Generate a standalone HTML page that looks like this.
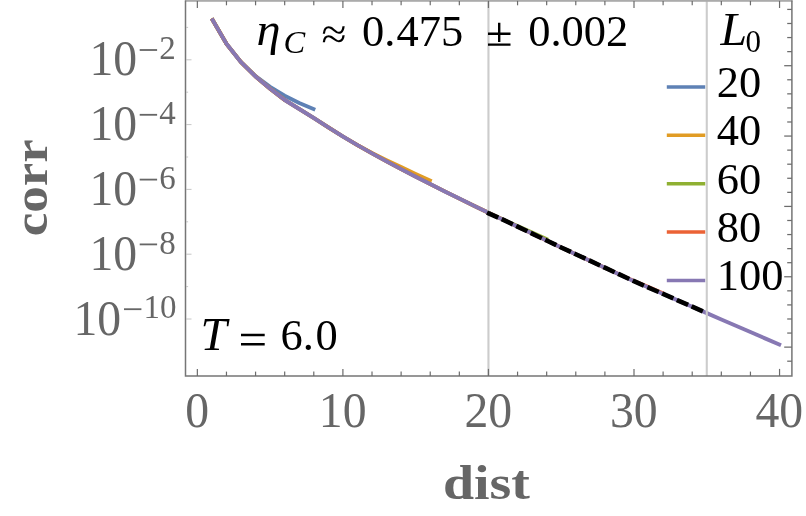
<!DOCTYPE html>
<html><head><meta charset="utf-8"><title>corr vs dist</title>
<style>
html,body{margin:0;padding:0;background:#fff;}
body{width:806px;height:516px;overflow:hidden;}
svg{display:block;}
text{font-family:"Liberation Serif",serif;}
.g{fill:#666666;}
.k{fill:#000;}
</style></head><body>
<svg width="806" height="516" viewBox="0 0 806 516" style="will-change:transform">
<rect width="806" height="516" fill="#fff"/>

<path d="M211.76,18.50 L226.46,43.80 L241.01,62.20 L255.57,76.00 L270.12,86.80 L284.68,95.70 L299.24,103.00 L315.25,109.82" fill="none" stroke="#5E81B5" stroke-width="3.75" stroke-linejoin="round" stroke-linecap="butt"/>
<path d="M211.76,18.50 L226.46,43.80 L241.01,62.20 L255.57,76.50 L270.12,88.70 L284.68,100.00 L299.24,109.00 L313.79,118.00 L328.35,127.40 L342.90,136.50 L357.45,145.10 L372.01,152.90 L386.56,160.10 L401.12,167.00 L415.67,173.90 L431.69,181.27" fill="none" stroke="#E19C24" stroke-width="3.75" stroke-linejoin="round" stroke-linecap="butt"/>
<path d="M211.76,18.50 L226.46,43.80 L241.01,62.20 L255.57,76.50 L270.12,88.70 L284.68,100.00 L299.24,109.00 L313.79,118.00 L328.35,127.40 L342.90,136.50 L357.45,145.10 L372.01,153.40 L386.56,161.40 L401.12,169.10 L415.67,176.70 L430.23,184.10 L444.78,191.40 L459.34,198.60 L473.89,205.70 L488.45,212.70 L503.00,219.46 L517.56,226.07 L532.12,232.58 L548.13,239.63" fill="none" stroke="#8FB032" stroke-width="3.75" stroke-linejoin="round" stroke-linecap="butt"/>
<path d="M211.76,18.50 L226.46,43.80 L241.01,62.20 L255.57,76.50 L270.12,88.70 L284.68,100.00 L299.24,109.00 L313.79,118.00 L328.35,127.40 L342.90,136.50 L357.45,145.10 L372.01,153.40 L386.56,161.40 L401.12,169.10 L415.67,176.70 L430.23,184.10 L444.78,191.40 L459.34,198.60 L473.89,205.70 L488.45,212.70 L503.00,219.66 L517.56,226.62 L532.12,233.58 L546.67,240.54 L561.23,247.47 L575.78,254.22 L590.34,260.96 L604.89,267.71 L619.44,274.35 L634.00,280.90 L648.55,287.08 L664.57,293.88" fill="none" stroke="#EB6235" stroke-width="3.75" stroke-linejoin="round" stroke-linecap="butt"/>
<path d="M211.76,18.50 L226.46,43.80 L241.01,62.20 L255.57,76.50 L270.12,88.70 L284.68,100.00 L299.24,109.00 L313.79,118.00 L328.35,127.40 L342.90,136.50 L357.45,145.10 L372.01,153.40 L386.56,161.40 L401.12,169.10 L415.67,176.70 L430.23,184.10 L444.78,191.40 L459.34,198.60 L473.89,205.70 L488.45,212.70 L503.00,219.66 L517.56,226.62 L532.12,233.58 L546.67,240.54 L561.23,247.47 L575.78,254.22 L590.34,260.96 L604.89,267.71 L619.44,274.45 L634.00,281.20 L648.55,287.58 L663.11,293.96 L677.66,300.34 L692.22,306.72 L706.77,313.10 L721.33,319.42 L735.88,325.74 L750.44,332.06 L765.00,338.38 L781.01,345.33" fill="none" stroke="#8778B3" stroke-width="3.9" stroke-linejoin="round" stroke-linecap="butt"/>
<line x1="488.45" y1="0.9" x2="488.45" y2="376.0" stroke="#cccccc" stroke-width="2.1"/>
<line x1="706.77" y1="0.9" x2="706.77" y2="376.0" stroke="#cccccc" stroke-width="2.1"/>
<path d="M486.99,212.55 L503.00,219.66 L517.56,226.62 L532.12,233.58 L546.67,240.54 L561.23,247.47 L575.78,254.22 L590.34,260.96 L604.89,267.71 L619.44,274.45 L634.00,281.20 L648.55,287.58 L663.11,293.96 L677.66,300.34 L692.22,306.72 L703.57,311.70" fill="none" stroke="#000" stroke-width="4.6" stroke-dasharray="12.3 3.78" stroke-linecap="butt"/>
<rect x="184.9" y="0" width="607.6" height="1.8" fill="#ababab"/>
<path d="M185.5,0.5 V376.0 H791.9 V0.5" fill="none" stroke="#767676" stroke-width="1.5" stroke-linejoin="miter"/>
<line x1="197.35" y1="376.0" x2="197.35" y2="368.9" stroke="#6c6c6c" stroke-width="1.2"/>
<line x1="197.35" y1="0.9" x2="197.35" y2="8.0" stroke="#6c6c6c" stroke-width="1.2"/>
<line x1="226.46" y1="376.0" x2="226.46" y2="371.6" stroke="#6c6c6c" stroke-width="1.2"/>
<line x1="226.46" y1="0.9" x2="226.46" y2="5.300000000000001" stroke="#6c6c6c" stroke-width="1.2"/>
<line x1="255.57" y1="376.0" x2="255.57" y2="371.6" stroke="#6c6c6c" stroke-width="1.2"/>
<line x1="255.57" y1="0.9" x2="255.57" y2="5.300000000000001" stroke="#6c6c6c" stroke-width="1.2"/>
<line x1="284.68" y1="376.0" x2="284.68" y2="371.6" stroke="#6c6c6c" stroke-width="1.2"/>
<line x1="284.68" y1="0.9" x2="284.68" y2="5.300000000000001" stroke="#6c6c6c" stroke-width="1.2"/>
<line x1="313.79" y1="376.0" x2="313.79" y2="371.6" stroke="#6c6c6c" stroke-width="1.2"/>
<line x1="313.79" y1="0.9" x2="313.79" y2="5.300000000000001" stroke="#6c6c6c" stroke-width="1.2"/>
<line x1="342.90" y1="376.0" x2="342.90" y2="368.9" stroke="#6c6c6c" stroke-width="1.2"/>
<line x1="342.90" y1="0.9" x2="342.90" y2="8.0" stroke="#6c6c6c" stroke-width="1.2"/>
<line x1="372.01" y1="376.0" x2="372.01" y2="371.6" stroke="#6c6c6c" stroke-width="1.2"/>
<line x1="372.01" y1="0.9" x2="372.01" y2="5.300000000000001" stroke="#6c6c6c" stroke-width="1.2"/>
<line x1="401.12" y1="376.0" x2="401.12" y2="371.6" stroke="#6c6c6c" stroke-width="1.2"/>
<line x1="401.12" y1="0.9" x2="401.12" y2="5.300000000000001" stroke="#6c6c6c" stroke-width="1.2"/>
<line x1="430.23" y1="376.0" x2="430.23" y2="371.6" stroke="#6c6c6c" stroke-width="1.2"/>
<line x1="430.23" y1="0.9" x2="430.23" y2="5.300000000000001" stroke="#6c6c6c" stroke-width="1.2"/>
<line x1="459.34" y1="376.0" x2="459.34" y2="371.6" stroke="#6c6c6c" stroke-width="1.2"/>
<line x1="459.34" y1="0.9" x2="459.34" y2="5.300000000000001" stroke="#6c6c6c" stroke-width="1.2"/>
<line x1="488.45" y1="376.0" x2="488.45" y2="368.9" stroke="#6c6c6c" stroke-width="1.2"/>
<line x1="488.45" y1="0.9" x2="488.45" y2="8.0" stroke="#6c6c6c" stroke-width="1.2"/>
<line x1="517.56" y1="376.0" x2="517.56" y2="371.6" stroke="#6c6c6c" stroke-width="1.2"/>
<line x1="517.56" y1="0.9" x2="517.56" y2="5.300000000000001" stroke="#6c6c6c" stroke-width="1.2"/>
<line x1="546.67" y1="376.0" x2="546.67" y2="371.6" stroke="#6c6c6c" stroke-width="1.2"/>
<line x1="546.67" y1="0.9" x2="546.67" y2="5.300000000000001" stroke="#6c6c6c" stroke-width="1.2"/>
<line x1="575.78" y1="376.0" x2="575.78" y2="371.6" stroke="#6c6c6c" stroke-width="1.2"/>
<line x1="575.78" y1="0.9" x2="575.78" y2="5.300000000000001" stroke="#6c6c6c" stroke-width="1.2"/>
<line x1="604.89" y1="376.0" x2="604.89" y2="371.6" stroke="#6c6c6c" stroke-width="1.2"/>
<line x1="604.89" y1="0.9" x2="604.89" y2="5.300000000000001" stroke="#6c6c6c" stroke-width="1.2"/>
<line x1="634.00" y1="376.0" x2="634.00" y2="368.9" stroke="#6c6c6c" stroke-width="1.2"/>
<line x1="634.00" y1="0.9" x2="634.00" y2="8.0" stroke="#6c6c6c" stroke-width="1.2"/>
<line x1="663.11" y1="376.0" x2="663.11" y2="371.6" stroke="#6c6c6c" stroke-width="1.2"/>
<line x1="663.11" y1="0.9" x2="663.11" y2="5.300000000000001" stroke="#6c6c6c" stroke-width="1.2"/>
<line x1="692.22" y1="376.0" x2="692.22" y2="371.6" stroke="#6c6c6c" stroke-width="1.2"/>
<line x1="692.22" y1="0.9" x2="692.22" y2="5.300000000000001" stroke="#6c6c6c" stroke-width="1.2"/>
<line x1="721.33" y1="376.0" x2="721.33" y2="371.6" stroke="#6c6c6c" stroke-width="1.2"/>
<line x1="721.33" y1="0.9" x2="721.33" y2="5.300000000000001" stroke="#6c6c6c" stroke-width="1.2"/>
<line x1="750.44" y1="376.0" x2="750.44" y2="371.6" stroke="#6c6c6c" stroke-width="1.2"/>
<line x1="750.44" y1="0.9" x2="750.44" y2="5.300000000000001" stroke="#6c6c6c" stroke-width="1.2"/>
<line x1="779.55" y1="376.0" x2="779.55" y2="368.9" stroke="#6c6c6c" stroke-width="1.2"/>
<line x1="779.55" y1="0.9" x2="779.55" y2="8.0" stroke="#6c6c6c" stroke-width="1.2"/>
<line x1="186.1" y1="319.00" x2="191.5" y2="319.00" stroke="#b8b8b8" stroke-width="0.8"/>
<line x1="186.1" y1="286.60" x2="188.1" y2="286.60" stroke="#b8b8b8" stroke-width="0.8"/>
<line x1="186.1" y1="254.20" x2="191.5" y2="254.20" stroke="#b8b8b8" stroke-width="0.8"/>
<line x1="186.1" y1="221.80" x2="188.1" y2="221.80" stroke="#b8b8b8" stroke-width="0.8"/>
<line x1="186.1" y1="189.40" x2="191.5" y2="189.40" stroke="#b8b8b8" stroke-width="0.8"/>
<line x1="186.1" y1="157.00" x2="188.1" y2="157.00" stroke="#b8b8b8" stroke-width="0.8"/>
<line x1="186.1" y1="124.60" x2="191.5" y2="124.60" stroke="#b8b8b8" stroke-width="0.8"/>
<line x1="186.1" y1="92.20" x2="188.1" y2="92.20" stroke="#b8b8b8" stroke-width="0.8"/>
<line x1="186.1" y1="59.80" x2="191.5" y2="59.80" stroke="#b8b8b8" stroke-width="0.8"/>
<line x1="186.1" y1="27.40" x2="188.1" y2="27.40" stroke="#b8b8b8" stroke-width="0.8"/>
<line x1="791.9" y1="361.20" x2="787.1999999999999" y2="361.20" stroke="#6c6c6c" stroke-width="1.25"/>
<line x1="791.9" y1="347.13" x2="784.1999999999999" y2="347.13" stroke="#6c6c6c" stroke-width="1.25"/>
<line x1="791.9" y1="333.06" x2="787.1999999999999" y2="333.06" stroke="#6c6c6c" stroke-width="1.25"/>
<line x1="791.9" y1="318.99" x2="787.1999999999999" y2="318.99" stroke="#6c6c6c" stroke-width="1.25"/>
<line x1="791.9" y1="304.92" x2="787.1999999999999" y2="304.92" stroke="#6c6c6c" stroke-width="1.25"/>
<line x1="791.9" y1="290.84" x2="787.1999999999999" y2="290.84" stroke="#6c6c6c" stroke-width="1.25"/>
<line x1="791.9" y1="276.77" x2="784.1999999999999" y2="276.77" stroke="#6c6c6c" stroke-width="1.25"/>
<line x1="791.9" y1="262.70" x2="787.1999999999999" y2="262.70" stroke="#6c6c6c" stroke-width="1.25"/>
<line x1="791.9" y1="248.63" x2="787.1999999999999" y2="248.63" stroke="#6c6c6c" stroke-width="1.25"/>
<line x1="791.9" y1="234.56" x2="787.1999999999999" y2="234.56" stroke="#6c6c6c" stroke-width="1.25"/>
<line x1="791.9" y1="220.49" x2="787.1999999999999" y2="220.49" stroke="#6c6c6c" stroke-width="1.25"/>
<line x1="791.9" y1="206.42" x2="784.1999999999999" y2="206.42" stroke="#6c6c6c" stroke-width="1.25"/>
<line x1="791.9" y1="192.35" x2="787.1999999999999" y2="192.35" stroke="#6c6c6c" stroke-width="1.25"/>
<line x1="791.9" y1="178.27" x2="787.1999999999999" y2="178.27" stroke="#6c6c6c" stroke-width="1.25"/>
<line x1="791.9" y1="164.20" x2="787.1999999999999" y2="164.20" stroke="#6c6c6c" stroke-width="1.25"/>
<line x1="791.9" y1="150.13" x2="787.1999999999999" y2="150.13" stroke="#6c6c6c" stroke-width="1.25"/>
<line x1="791.9" y1="136.06" x2="784.1999999999999" y2="136.06" stroke="#6c6c6c" stroke-width="1.25"/>
<line x1="791.9" y1="121.99" x2="787.1999999999999" y2="121.99" stroke="#6c6c6c" stroke-width="1.25"/>
<line x1="791.9" y1="107.92" x2="787.1999999999999" y2="107.92" stroke="#6c6c6c" stroke-width="1.25"/>
<line x1="791.9" y1="93.85" x2="787.1999999999999" y2="93.85" stroke="#6c6c6c" stroke-width="1.25"/>
<line x1="791.9" y1="79.78" x2="787.1999999999999" y2="79.78" stroke="#6c6c6c" stroke-width="1.25"/>
<line x1="791.9" y1="65.71" x2="784.1999999999999" y2="65.71" stroke="#6c6c6c" stroke-width="1.25"/>
<line x1="791.9" y1="51.63" x2="787.1999999999999" y2="51.63" stroke="#6c6c6c" stroke-width="1.25"/>
<line x1="791.9" y1="37.56" x2="787.1999999999999" y2="37.56" stroke="#6c6c6c" stroke-width="1.25"/>
<line x1="791.9" y1="23.49" x2="787.1999999999999" y2="23.49" stroke="#6c6c6c" stroke-width="1.25"/>
<line x1="791.9" y1="9.42" x2="787.1999999999999" y2="9.42" stroke="#6c6c6c" stroke-width="1.25"/>
<text transform="translate(197.15,427.40) scale(0.98,1.02)" font-size="48.7" class="g" text-anchor="middle"  style="">0</text>
<text transform="translate(342.70,427.40) scale(0.98,1.02)" font-size="48.7" class="g" text-anchor="middle"  style="">10</text>
<text transform="translate(488.25,427.40) scale(0.98,1.02)" font-size="48.7" class="g" text-anchor="middle"  style="">20</text>
<text transform="translate(633.80,427.40) scale(0.98,1.02)" font-size="48.7" class="g" text-anchor="middle"  style="">30</text>
<text transform="translate(779.35,427.40) scale(0.98,1.02)" font-size="48.7" class="g" text-anchor="middle"  style="">40</text>
<text transform="translate(89.50,75.40) scale(0.98,1.02)" font-size="48.7" class="g" text-anchor="start"  style="">10</text>
<rect x="139.70" y="49.10" width="17.4" height="1.8" class="g"/>
<text transform="translate(159.30,59.10) scale(1.0,1.03)" font-size="33" class="g" text-anchor="start"  style="">2</text>
<text transform="translate(89.50,140.20) scale(0.98,1.02)" font-size="48.7" class="g" text-anchor="start"  style="">10</text>
<rect x="139.70" y="113.90" width="17.4" height="1.8" class="g"/>
<text transform="translate(159.30,123.90) scale(1.0,1.03)" font-size="33" class="g" text-anchor="start"  style="">4</text>
<text transform="translate(89.50,205.00) scale(0.98,1.02)" font-size="48.7" class="g" text-anchor="start"  style="">10</text>
<rect x="139.70" y="178.70" width="17.4" height="1.8" class="g"/>
<text transform="translate(159.30,188.70) scale(1.0,1.03)" font-size="33" class="g" text-anchor="start"  style="">6</text>
<text transform="translate(89.50,269.80) scale(0.98,1.02)" font-size="48.7" class="g" text-anchor="start"  style="">10</text>
<rect x="139.70" y="243.50" width="17.4" height="1.8" class="g"/>
<text transform="translate(159.30,253.50) scale(1.0,1.03)" font-size="33" class="g" text-anchor="start"  style="">8</text>
<text transform="translate(73.50,334.60) scale(0.98,1.02)" font-size="48.7" class="g" text-anchor="start"  style="">10</text>
<rect x="124.00" y="308.30" width="17.4" height="1.8" class="g"/>
<text transform="translate(143.60,318.30) scale(1.0,1.03)" font-size="33" class="g" text-anchor="start"  style="">10</text>
<text transform="translate(486.40,499.20) scale(1.13,1.0)" font-size="49.5" class="g" text-anchor="middle"  style="font-weight:bold">dist</text>
<text transform="translate(47.4,187.8) rotate(-90) scale(1.07,1)" font-size="49.5" class="g" text-anchor="middle" style="font-weight:bold">corr</text>
<text transform="translate(256.50,45.40) scale(1.05,1.0)" font-size="46" class="k" text-anchor="start"  style="font-style:italic">η</text>
<text transform="translate(283.50,53.40) scale(1.05,1.0)" font-size="31" class="k" text-anchor="start"  style="font-style:italic">C</text>
<text transform="translate(321.50,48.90) scale(1.03,1.0)" font-size="44" class="k" text-anchor="start"  style="">≈</text>
<text transform="translate(362.00,46.40) scale(1.0,1.013)" font-size="44.5" class="k" text-anchor="start"  style="">0.<tspan dx="1.2">475</tspan></text>
<path d="M488,33.8 H510.5 M499.2,22.8 V42 M488,44.6 H510.5" stroke="#000" stroke-width="2.4" fill="none"/>
<text transform="translate(528.20,46.40) scale(1.0,1.013)" font-size="44.5" class="k" text-anchor="start"  style="">0.002</text>
<text transform="translate(200.50,350.20) scale(1.03,1.0)" font-size="46" class="k" text-anchor="start"  style="font-style:italic">T</text>
<path d="M241,335 H264.7 M241,344.2 H264.7" stroke="#000" stroke-width="2.6" fill="none"/>
<text transform="translate(280.60,350.40) scale(1.0,1.013)" font-size="44.5" class="k" text-anchor="start"  style="">6.<tspan dx="1.5">0</tspan></text>
<text transform="translate(720.50,45.30) scale(1.04,1.0)" font-size="46" class="k" text-anchor="start"  style="font-style:italic">L</text>
<text transform="translate(745.50,52.30) scale(1.0,1.02)" font-size="31" class="k" text-anchor="start"  style="">0</text>
<line x1="666.8" y1="86.9" x2="705.2" y2="86.9" stroke="#5E81B5" stroke-width="3.5"/>
<text transform="translate(716.80,96.70) scale(1.0,1.004)" font-size="44.5" class="k" text-anchor="start"  style="">20</text>
<line x1="666.8" y1="135.3" x2="705.2" y2="135.3" stroke="#E19C24" stroke-width="3.5"/>
<text transform="translate(716.80,145.10) scale(1.0,1.004)" font-size="44.5" class="k" text-anchor="start"  style="">40</text>
<line x1="666.8" y1="183.7" x2="705.2" y2="183.7" stroke="#8FB032" stroke-width="3.5"/>
<text transform="translate(716.80,193.50) scale(1.0,1.004)" font-size="44.5" class="k" text-anchor="start"  style="">60</text>
<line x1="666.8" y1="232.1" x2="705.2" y2="232.1" stroke="#EB6235" stroke-width="3.5"/>
<text transform="translate(716.80,241.90) scale(1.0,1.004)" font-size="44.5" class="k" text-anchor="start"  style="">80</text>
<line x1="666.8" y1="280.5" x2="705.2" y2="280.5" stroke="#8778B3" stroke-width="3.5"/>
<text transform="translate(716.80,290.30) scale(1.0,1.004)" font-size="44.5" class="k" text-anchor="start"  style="">100</text>
</svg></body></html>
